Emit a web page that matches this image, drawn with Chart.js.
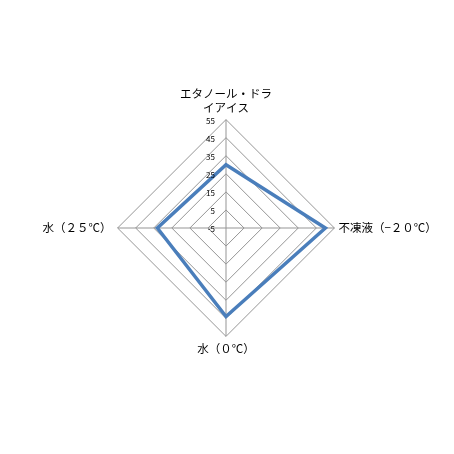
<!DOCTYPE html>
<html lang="ja">
<head>
<meta charset="UTF-8">
<title>Radar</title>
<style>
  body { margin: 0; background: #fff; }
  canvas { display: block; }
</style>
</head>
<body>
<canvas id="radar" width="454" height="454"></canvas>
<script src="https://cdn.jsdelivr.net/npm/chart.js"></script>
<script>
  const categories = [['エタノール・ドラ', 'イアイス'], '不凍液（−２０℃）', '水（０℃）', '水（２５℃）'];
  const values = [30, 50, 44, 33];
  const tickMin = -5;
  const tickMax = 55;
  const tickStep = 10;

  // tick labels sit just left of the vertical axis, like the original
  const tickLabelsLeft = {
    id: 'tickLabelsLeft',
    afterDraw(chart) {
      const scale = chart.scales.r;
      const ctx = chart.ctx;
      ctx.save();
      ctx.font = '8px "Noto Sans CJK JP", sans-serif';
      ctx.fillStyle = '#000';
      ctx.textAlign = 'right';
      ctx.textBaseline = 'middle';
      scale.ticks.forEach(t => {
        const d = scale.getDistanceFromCenterForValue(t.value);
        ctx.fillText(String(t.value), scale.xCenter - 11, scale.yCenter - d + 1);
      });
      ctx.restore();
    }
  };

  new Chart(document.getElementById('radar'), {
    type: 'radar',
    data: {
      labels: categories,
      datasets: [{
        data: values,
        borderColor: '#4a7ebb',
        borderWidth: 3.5,
        backgroundColor: 'transparent',
        fill: false,
        pointRadius: 0,
        pointHoverRadius: 0,
        tension: 0
      }]
    },
    options: {
      responsive: false,
      animation: false,
      layout: { padding: { left: 27, right: 0, top: 81, bottom: 91 } },
      plugins: { legend: { display: false }, tooltip: { enabled: false } },
      scales: {
        r: {
          min: tickMin,
          max: tickMax,
          beginAtZero: false,
          grid: { circular: false, color: '#959595', lineWidth: 1 },
          angleLines: { color: '#959595', lineWidth: 1 },
          ticks: { stepSize: tickStep, display: false },
          pointLabels: {
            color: '#000',
            font: { family: '"Noto Sans CJK JP", sans-serif', size: 11.5 },
            padding: ctx => [5, 4, 5, 6][ctx.index]
          }
        }
      }
    },
    plugins: [tickLabelsLeft]
  });
</script>
</body>
</html>
